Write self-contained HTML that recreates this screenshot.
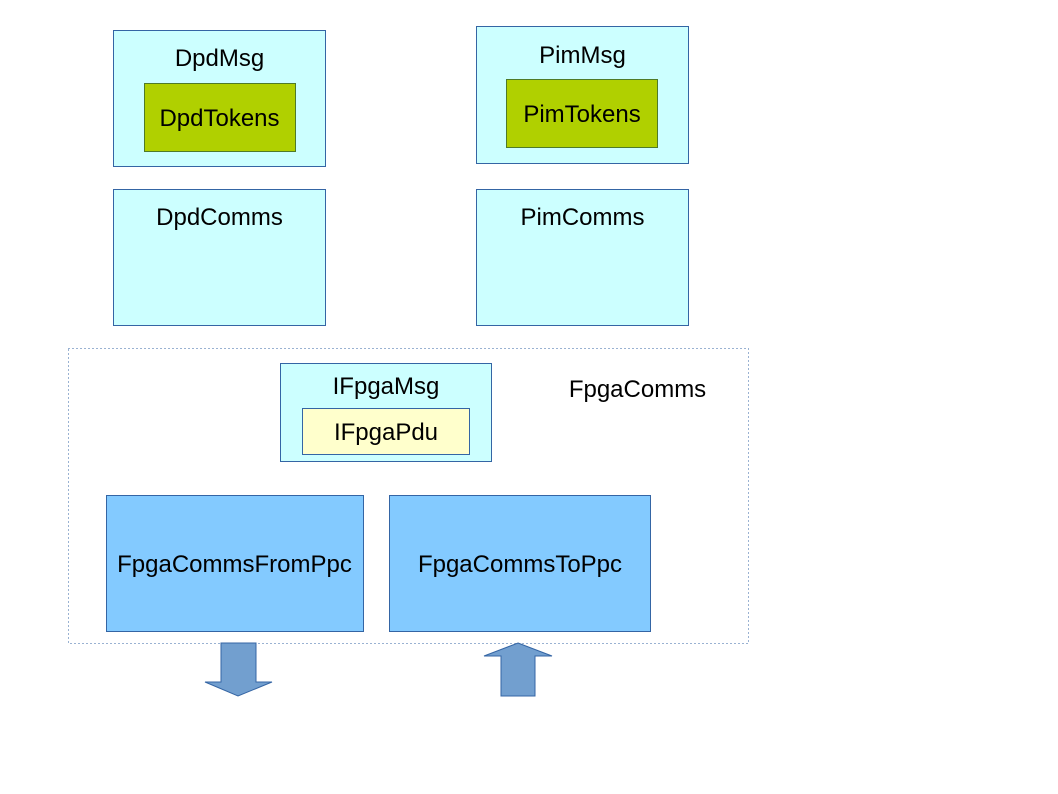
<!DOCTYPE html>
<html><head><style>body{margin:0;background:#fff}svg{display:block}text{font-family:"Liberation Sans",sans-serif;font-size:24px;fill:#000}</style></head>
<body>
<svg width="1058" height="794" viewBox="0 0 1058 794">
<rect x="113.5" y="30.5" width="212" height="136" fill="#ccffff" stroke="#3465a4"/>
<text x="219.5" y="66" text-anchor="middle">DpdMsg</text>
<rect x="144.5" y="83.5" width="151" height="68" fill="#b0d000" stroke="#4f7a28"/>
<text x="219.5" y="126" text-anchor="middle">DpdTokens</text>
<rect x="476.5" y="26.5" width="212" height="137" fill="#ccffff" stroke="#3465a4"/>
<text x="582.5" y="63" text-anchor="middle">PimMsg</text>
<rect x="506.5" y="79.5" width="151" height="68" fill="#b0d000" stroke="#4f7a28"/>
<text x="582" y="122" text-anchor="middle">PimTokens</text>
<rect x="113.5" y="189.5" width="212" height="136" fill="#ccffff" stroke="#3465a4"/>
<text x="219.5" y="225" text-anchor="middle">DpdComms</text>
<rect x="476.5" y="189.5" width="212" height="136" fill="#ccffff" stroke="#3465a4"/>
<text x="582.5" y="225" text-anchor="middle">PimComms</text>
<rect x="68.5" y="348.5" width="680" height="295" fill="none" stroke="#3465a4" stroke-dasharray="1,3"/>
<text x="637.5" y="397" text-anchor="middle">FpgaComms</text>
<rect x="280.5" y="363.5" width="211" height="98" fill="#ccffff" stroke="#3465a4"/>
<text x="386" y="394" text-anchor="middle">IFpgaMsg</text>
<rect x="302.5" y="408.5" width="167" height="46" fill="#ffffcc" stroke="#3465a4"/>
<text x="386" y="440" text-anchor="middle">IFpgaPdu</text>
<rect x="106.5" y="495.5" width="257" height="136" fill="#83caff" stroke="#3465a4"/>
<text x="234.5" y="572" text-anchor="middle">FpgaCommsFromPpc</text>
<rect x="389.5" y="495.5" width="261" height="136" fill="#83caff" stroke="#3465a4"/>
<text x="520" y="572" text-anchor="middle">FpgaCommsToPpc</text>
<polygon points="221,643 256,643 256,682 272,682 238,696 205,682 221,682" fill="#729fcf" stroke="#3465a4"/>
<polygon points="518,643 552,656 535,656 535,696 501,696 501,656 484,656" fill="#729fcf" stroke="#3465a4"/>
</svg>
</body></html>
